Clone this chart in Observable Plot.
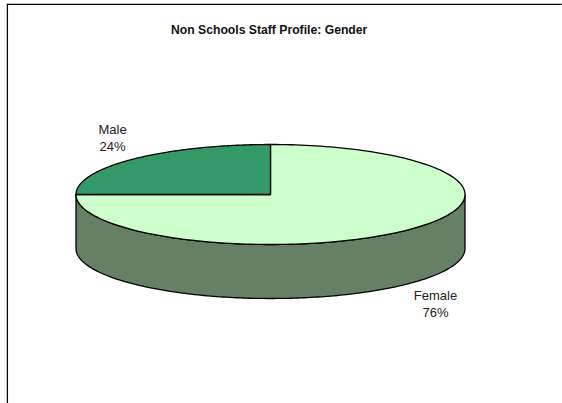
<!DOCTYPE html>
<html>
<head>
<meta charset="utf-8">
<script src="https://cdn.jsdelivr.net/npm/d3@7"></script>
<script src="https://cdn.jsdelivr.net/npm/@observablehq/plot@0.6"></script>
<style>
html,body{margin:0;padding:0;background:#fff}
svg{display:block}
</style>
</head>
<body>
<div id="chart"></div>
<script>
const titleText = "Non Schools Staff Profile: Gender";
const categories = ["Female", "Male"];
const labelValues = [76, 24];
const drawnShares = [75, 25]; // the slice edge reads as a quarter of the disc
const colors = ["#ccffcc", "#339966"];
const sideColor = "#668066";
const depth = 1.08; // pie thickness in radius units

const steps = 180;
const rim = (from, to, dy = 0) =>
  d3.range(steps + 1).map(i => {
    const a = from + (to - from) * i / steps;
    return {x: Math.sin(a), y: Math.cos(a) - dy};
  });

const tau = 2 * Math.PI;
const maleAngle = tau * drawnShares[1] / d3.sum(drawnShares);
const centre = {x: 0, y: 0};
const femaleSlice = [centre, ...rim(0, tau - maleAngle)];
const maleSlice = [centre, ...rim(tau - maleAngle, tau)];
const side = [...rim(Math.PI / 2, 3 * Math.PI / 2), ...rim(3 * Math.PI / 2, Math.PI / 2, depth)];

const labels = [
  {x: 0.848, y: -2.18, text: `${categories[0]}\n${labelValues[0]}%`},
  {x: -0.812, y: 1.15, text: `${categories[1]}\n${labelValues[1]}%`}
];
const closed = {x: "x", y: "y", curve: "linear-closed", stroke: "#000", strokeWidth: 1.3, strokeLinejoin: "round"};
const frameLeft = -1.352, frameTop = 3.8, frameBottom = -4.2, frameRight = 1.5;

const plot = Plot.plot({
  width: 562, height: 403,
  margin: 0,
  x: {domain: [-1, 1], range: [75.5, 464.5], axis: null},
  y: {domain: [-1, 1], range: [244, 144], axis: null},
  style: {background: "#fff", fontFamily: "'Liberation Sans', Arial, sans-serif"},
  marks: [
    Plot.ruleY([frameTop + 0.02], {x1: frameLeft - 0.005, x2: frameRight, stroke: "#bbb", strokeWidth: 1}),
    Plot.ruleX([frameLeft - 0.005], {y1: frameTop, y2: frameBottom, stroke: "#bbb", strokeWidth: 1}),
    Plot.ruleY([frameTop], {x1: frameLeft, x2: frameRight, stroke: "#000", strokeWidth: 1}),
    Plot.ruleX([frameLeft], {y1: frameTop, y2: frameBottom, stroke: "#000", strokeWidth: 1}),
    Plot.line(side, {...closed, fill: sideColor}),
    Plot.line(femaleSlice, {...closed, fill: colors[0]}),
    Plot.line(maleSlice, {...closed, fill: colors[1]}),
    Plot.text(labels, {x: "x", y: "y", text: "text", fontSize: 13, lineHeight: 1.3, fill: "#222"}),
    Plot.text([titleText], {x: [-0.007], y: [3.29], fontSize: 12.2, fontWeight: "bold", fill: "#111"})
  ]
});
document.getElementById("chart").appendChild(plot);
</script>
</body>
</html>
